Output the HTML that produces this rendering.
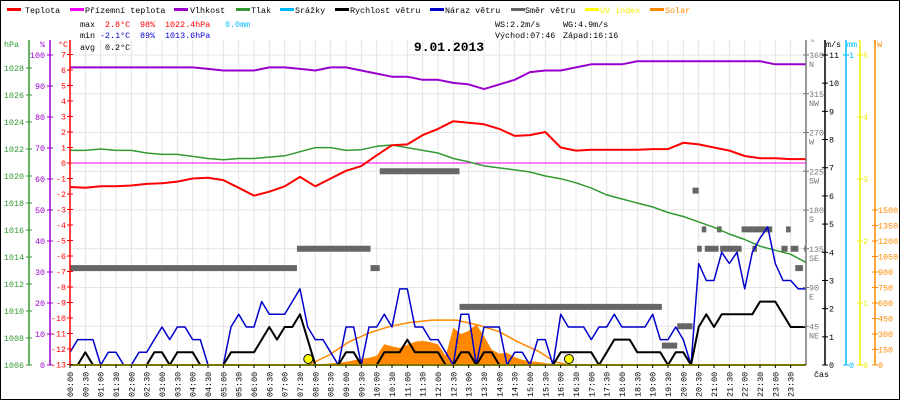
<!DOCTYPE html>
<html><head><meta charset="utf-8">
<style>
html,body{margin:0;padding:0;background:#fff;}
#wrap{position:relative;width:900px;height:400px;overflow:hidden;}
svg text{font-family:"Liberation Mono","DejaVu Sans Mono",monospace;font-size:8.4px;}
</style></head>
<body>
<div id="wrap">
<svg id="chart" width="900" height="400" viewBox="0 0 900 400" xmlns="http://www.w3.org/2000/svg">
<rect x="0.5" y="0.5" width="899" height="399" fill="#fff" stroke="#000"/>
<g id="grid"></g>
<g id="marks"></g>
<g id="axes"></g>
<g id="legend">
  <rect x="7" y="8" width="14" height="3" fill="#f00"/><text x="25" y="13">Teplota</text>
  <rect x="70" y="8" width="14" height="3" fill="#f0f"/><text x="85" y="13">Přízemní teplota</text>
  <rect x="174" y="8" width="14" height="3" fill="#90c"/><text x="190" y="13">Vlhkost</text>
  <rect x="236" y="8" width="14" height="3" fill="#393"/><text x="251" y="13">Tlak</text>
  <rect x="280" y="8" width="14" height="3" fill="#0bf"/><text x="295" y="13">Srážky</text>
  <rect x="335" y="8" width="14" height="3" fill="#000"/><text x="350" y="13">Rychlost větru</text>
  <rect x="430" y="8" width="14" height="3" fill="#00c"/><text x="445" y="13">Náraz větru</text>
  <rect x="511" y="8" width="14" height="3" fill="#666"/><text x="525" y="13">Směr větru</text>
  <rect x="585" y="8" width="14" height="3" fill="#ff0"/><text x="600" y="13" fill="#ee0">UV index</text>
  <rect x="650" y="8" width="14" height="3" fill="#f80"/><text x="665" y="13" fill="#f80">Solar</text>
</g>
<g id="stats">
  <text x="80" y="27">max</text><text x="105" y="27" fill="#f00">2.8°C</text><text x="140" y="27" fill="#f00">98%</text><text x="165" y="27" fill="#f00">1022.4hPa</text><text x="225" y="27" fill="#0bf">0.0mm</text>
  <text x="80" y="38">min</text><text x="100" y="38" fill="#00c">-2.1°C</text><text x="140" y="38" fill="#00c">89%</text><text x="165" y="38" fill="#00c">1013.6hPa</text>
  <text x="80" y="50">avg</text><text x="105" y="50">0.2°C</text>
  <text x="495" y="27">WS:2.2m/s</text><text x="563" y="27">WG:4.9m/s</text>
  <text x="495" y="38">Východ:07:46</text><text x="563" y="38">Západ:16:16</text>
  <text x="449" y="51" text-anchor="middle" style="font-size:13px;font-weight:bold">9.01.2013</text>
</g>
</svg>
</div>
<script>
// ---- data ----
const halfHours = [0,0.5,1,1.5,2,2.5,3,3.5,4,4.5,5,5.5,6,6.5,7,7.5,8,8.5,9,9.5,10,10.5,11,11.5,12,12.5,13,13.5,14,14.5,15,15.5,16,16.5,17,17.5,18,18.5,19,19.5,20,20.5,21,21.5,22,22.5,23,23.5,24];
const temperature = [-1.55,-1.6,-1.5,-1.5,-1.45,-1.35,-1.3,-1.2,-1.0,-0.95,-1.1,-1.6,-2.1,-1.85,-1.5,-0.9,-1.5,-1.0,-0.5,-0.2,0.5,1.15,1.2,1.8,2.2,2.7,2.6,2.5,2.2,1.75,1.8,2.0,1.0,0.8,0.85,0.85,0.85,0.85,0.9,0.9,1.3,1.2,1.0,0.8,0.45,0.3,0.3,0.25,0.25];
const humidity = [96,96,96,96,96,96,96,96,96,95.5,95,95,95,96,96,95.5,95,96,96,95,94,93,93,92,92,91,90.5,89,90.5,92,94.5,95,95,96,97,97,97,98,98,98,98,98,98,98,98,98,97,97,97];
const pressure = [1021.9,1021.9,1022.0,1021.9,1021.9,1021.7,1021.6,1021.6,1021.45,1021.3,1021.2,1021.3,1021.3,1021.4,1021.5,1021.8,1022.1,1022.1,1021.9,1021.95,1022.2,1022.3,1022.1,1021.9,1021.7,1021.3,1021.05,1020.75,1020.6,1020.45,1020.3,1020.0,1019.8,1019.5,1019.1,1018.6,1018.3,1018.0,1017.7,1017.3,1017.0,1016.6,1016.2,1015.7,1015.3,1014.8,1014.5,1014.2,1013.6];
const groundTemp = [0,0];
const windSpeed = [0,0,0.45,0,0,0,0,0,0,0,0,0.45,0.45,0,0.45,0.45,0.45,0,0,0,0,0.45,0.45,0.45,0.45,0.9,1.35,0.9,1.35,1.35,1.8,0.9,0,0,0,0,0.45,0.45,0,0,0,0.45,0.45,0.45,0.9,0.45,0.45,0.45,0.45,0,0,0.45,0.45,0,0.45,0.45,0,0,0,0,0,0,0,0,0.45,0.45,0.45,0.45,0.45,0,0.45,0.9,0.9,0.9,0.45,0.45,0.45,0.45,0,0.45,0.45,0,1.35,1.8,1.35,1.8,1.8,1.8,1.8,1.8,2.25,2.25,2.25,1.8,1.35,1.35,1.35];
const windGust = [0.45,0.9,0.9,0.9,0,0.45,0.45,0,0,0.45,0.45,0.9,1.35,0.9,1.35,1.35,0.9,0.9,0,0,0,1.35,1.8,1.35,1.35,2.25,1.8,1.8,1.8,2.25,2.7,1.35,0.9,0.9,0.45,0,1.35,1.35,0,1.35,1.35,1.8,1.35,2.7,2.7,1.35,1.35,0.9,0.9,0.45,0,1.8,1.8,0,1.35,1.35,1.35,0,0.45,0.45,0,0.9,0.9,0,1.8,1.35,1.35,1.35,0.9,1.35,1.35,1.8,1.35,1.35,1.35,1.35,1.8,0.9,0.9,1.35,0.9,0,3.6,3.0,3.0,4.0,3.6,4.0,2.7,4.0,4.5,4.9,3.6,3.0,3.0,2.7,2.7];
const dirStart = [0,7.4,9.8,10.1,12.7,19.3,19.8,20.3,20.6,21.1,21.9,22.3,23.35,20.45,20.7,21.2,22.25,23.2,23.5,23.95,23.65];
const dirEnd   = [7.4,9.8,10.1,12.7,19.3,19.8,20.3,20.5,20.75,21.25,22.3,22.9,23.5,20.6,21.15,21.9,22.4,23.4,23.75,24,23.9];
const dirDeg   = [112.5,135,112.5,225,67.5,22.5,45,202.5,157.5,157.5,157.5,157.5,157.5,135,135,135,135,135,135,135,112.5];
const solarHours = [7.75,8,8.25,8.5,8.75,9,9.25,9.5,9.75,10,10.25,10.5,10.75,11,11.25,11.5,11.75,12,12.25,12.5,12.75,13,13.25,13.5,13.75,14,14.25,14.5,14.75,15,15.25,15.5,15.75,16,16.25];
const solarW = [0,3,10,15,20,30,45,60,70,90,200,180,165,195,225,235,220,200,90,360,300,330,395,280,150,110,120,75,50,35,30,18,10,5,0];
const clearHours = [7.77,8.45,9.1,9.75,10.4,11.05,11.8,12.6,13.3,14.0,14.6,15.3,15.8,16.27];
const clearW = [0,97,225,310,371,410,435,435,387,322,225,129,32,0];
const uvIndex = [0,0];
const sunEvents = [7.77,16.27];
const tempTicks = [7,6,5,4,3,2,1,0,-1,-2,-3,-4,-5,-6,-7,-8,-9,-10,-11,-12,-13];
const humTicks = [100,90,80,70,60,50,40,30,20,10,0];
const presTicks = [1028,1026,1024,1022,1020,1018,1016,1014,1012,1010,1008,1006];
const dirTicks = [360,315,270,225,180,135,90,45];
const dirNames = ["N","NW","W","SW","S","SE","E","NE"];
const msTicks = [11,10,9,8,7,6,5,4,3,2,1,0];
const uvTicks = [5,4,3,2,1,0];
const wTicks = [1500,1350,1200,1050,900,750,600,450,300,150,0];

// ---- scales ----
const X0=70, X1=806, Y0=365;
const xH = h => X0 + h*(X1-X0)/24;
const yT = t => 163 - 15.5*t;
const yP = p => Y0 - 13.5*(p-1006);
const yHum = v => Y0 - 3.1*v;
const yV = v => Y0 - v*310/11;
const yD = d => Y0 - d*310/360;
const yW = w => Y0 - w*155/1500;
const yUV = u => Y0 - u*62;

const NS='http://www.w3.org/2000/svg';
function mk(tag, parent, attrs){const e=document.createElementNS(NS,tag);for(const k in attrs)e.setAttribute(k,attrs[k]);parent.appendChild(e);return e;}
const grid=document.getElementById('grid'), marks=document.getElementById('marks'), axes=document.getElementById('axes');

for(let i=0;i<=48;i++){const x=xH(i/2);const l=mk('line',grid,{x1:x,x2:x,y1:40,y2:Y0,stroke:'#e4e4e4','stroke-width':1});

}
for(let k=1;k<=8;k++){const y=yD(k*45);const l=mk('line',grid,{x1:X0,x2:X1,y1:y,y2:y,stroke:'#e4e4e4','stroke-width':1});

}

function poly(xs, ys, color, w, name){
  const pts=xs.map((x,i)=>x.toFixed(1)+','+ys[i].toFixed(1)).join(' ');
  const p=mk('polyline',marks,{points:pts,fill:'none',stroke:color,'stroke-width':w,'stroke-linejoin':'round'});
  
  
  return p;
}
const q = windSpeed.map((_,i)=>i/4);

{
  let d='M'+xH(solarHours[0])+','+Y0;
  solarHours.forEach((h,i)=>{d+=' L'+xH(h).toFixed(1)+','+yW(solarW[i]).toFixed(1);});
  d+=' L'+xH(solarHours[solarHours.length-1])+','+Y0+' Z';
  const a=mk('path',marks,{d:d,fill:'#f80'});
  
  
}
poly(clearHours.map(xH), clearW.map(yW), '#f80', 1.5, 'solar-clear-sky-curve');

dirDeg.forEach((d,i)=>{
  const r=mk('rect',marks,{x:xH(dirStart[i]),y:yD(d)-3,width:Math.max(2,xH(dirEnd[i])-xH(dirStart[i])),height:6,fill:'#666'});
  
  
});

poly([xH(0),xH(24)], groundTemp.map(yT), '#f0f', 1, 'ground-temperature-line');
poly(halfHours.map(xH), pressure.map(yP), '#393', 1.5, 'pressure-line');
poly(halfHours.map(xH), humidity.map(yHum), '#90c', 2, 'humidity-line');
poly(halfHours.map(xH), temperature.map(yT), '#f00', 2, 'temperature-line');
poly(q.map(xH), windGust.map(yV), '#00c', 1.5, 'wind-gust-line');
poly(q.map(xH), windSpeed.map(yV), '#000', 2, 'wind-speed-line');
poly([xH(0),xH(24)], uvIndex.map(yUV), '#ee0', 2, 'uv-index-line');
sunEvents.forEach(h=>{
  const c=mk('circle',marks,{cx:xH(h),cy:359,r:4.5,fill:'#ff0',stroke:'#000','stroke-width':1});
  
  
});

function vaxis(x,color,name){const l=mk('line',axes,{x1:x,x2:x,y1:40,y2:Y0,stroke:color,'stroke-width':1.5});

}
function label(x,y,txt,color,anchor,name){const t=mk('text',axes,{x:x,y:y,fill:color,'text-anchor':anchor});t.textContent=txt;

return t;}
vaxis(29,'#393','pressure-axis'); vaxis(50,'#90c','humidity-axis'); vaxis(70,'#f00','temperature-axis');
vaxis(806,'#777','direction-axis'); vaxis(825,'#000','wind-speed-axis'); vaxis(846,'#0bf','rain-axis'); vaxis(860,'#ee0','uv-axis');
{const l=mk('line',axes,{x1:875,x2:875,y1:40,y2:Y0,stroke:'#f80','stroke-width':1.5});

}
presTicks.forEach(v=>{const y=yP(v);mk('line',axes,{x1:26,x2:32,y1:y,y2:y,stroke:'#393'});label(24,y+3,String(v),'#393','end','pressure-tick-label');});
humTicks.forEach(v=>{const y=yHum(v);mk('line',axes,{x1:47,x2:53,y1:y,y2:y,stroke:'#90c'});label(45,y+3,String(v),'#90c','end','humidity-tick-label');});
tempTicks.forEach(v=>{const y=yT(v);mk('line',axes,{x1:67,x2:73,y1:y,y2:y,stroke:'#f00'});label(66,y+3,v<0?'-'+(-v):String(v),'#f00','end','temperature-tick-label');});
dirTicks.forEach((v,i)=>{const y=yD(v);mk('line',axes,{x1:803,x2:809,y1:y,y2:y,stroke:'#777'});label(809,y+3,String(v),'#777','start','direction-tick-label');label(809,y+12,dirNames[i],'#777','start','direction-name-label');});
msTicks.forEach(v=>{const y=yV(v);mk('line',axes,{x1:822,x2:828,y1:y,y2:y,stroke:'#000'});label(829,y+3,String(v),'#000','start','wind-speed-tick-label');});
[1,0].forEach(v=>{const y=Y0-v*310;mk('line',axes,{x1:843,x2:849,y1:y,y2:y,stroke:'#0bf'});label(849,y+3,String(v),'#0bf','start','rain-tick-label');});
uvTicks.forEach(v=>{const y=yUV(v);mk('line',axes,{x1:857,x2:863,y1:y,y2:y,stroke:'#ee0'});label(863,y+3,String(v),'#ee0','start','uv-tick-label');});
wTicks.forEach(v=>{const y=yW(v);mk('line',axes,{x1:872,x2:878,y1:y,y2:y,stroke:'#f80'});label(878,y+3,String(v),'#f80','start','solar-tick-label');});
label(4,47,'hPa','#393','start','pressure-axis-title');
label(40,47,'%','#90c','start','humidity-axis-title');
label(58,47,'°C','#f00','start','temperature-axis-title');
label(810,45,'°','#777','start','direction-axis-title');
label(826,47,'m/s','#000','start','wind-speed-axis-title');
label(847,47,'mm','#0bf','start','rain-axis-title');
label(877,47,'W','#f80','start','solar-axis-title');
label(814,377,'čas','#000','start','x-axis-title');
for(let i=0;i<48;i++){const h=i/2;const x=xH(h);
  mk('line',axes,{x1:x,x2:x,y1:Y0,y2:Y0+3,stroke:'#000'});
  const hh=String(Math.floor(h)).padStart(2,'0'), mm=(i%2)?'30':'00';
  const t=mk('text',axes,{x:0,y:0,transform:'translate('+(x+3)+',397) rotate(-90)',fill:'#000'});
  t.textContent=hh+':'+mm;
  
  
}
{const l=mk('line',axes,{x1:X0,x2:X1,y1:Y0,y2:Y0,stroke:'#000','stroke-width':1});

}
</script>
</body></html>
